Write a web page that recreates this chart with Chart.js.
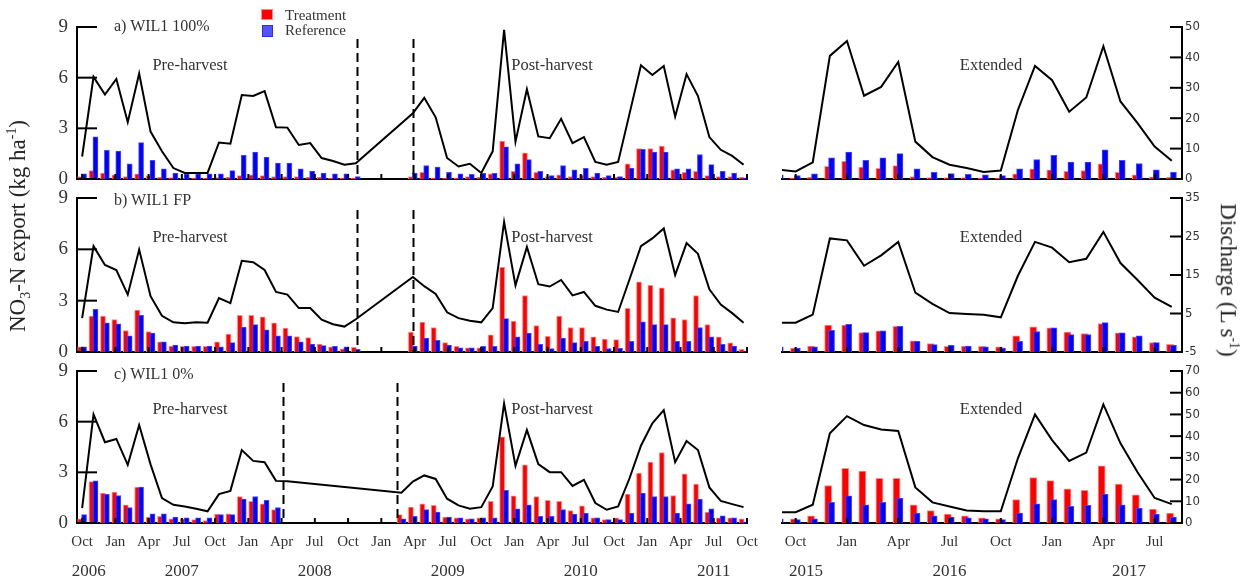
<!DOCTYPE html>
<html>
<head>
<meta charset="utf-8">
<script src="https://cdn.jsdelivr.net/npm/chart.js@4.4.1/dist/chart.umd.min.js"></script>
<style>
  html, body { margin: 0; padding: 0; background: #fff; }
  #wrap { position: relative; width: 1249px; height: 586px; overflow: hidden;
          font-family: 'Liberation Serif', 'Times New Roman', serif; color: #333; }
  #wrap canvas { position: absolute; left: 0; top: 0; }
  .txt { position: absolute; white-space: nowrap; line-height: 1; }
  .phase { font-size: 16.5px; transform: translateX(-50%); }
  .panel { font-size: 16px; left: 114px; }
  .key { position: absolute; box-sizing: border-box; }
  .title { font-size: 23px; color: #222; }
  .title sub, .title sup { font-size: 0.6em; }
</style>
</head>
<body>
<div id="wrap">
  <canvas id="aL" width="1249" height="586"></canvas>
  <canvas id="aR" width="1249" height="586"></canvas>
  <canvas id="bL" width="1249" height="586"></canvas>
  <canvas id="bR" width="1249" height="586"></canvas>
  <canvas id="cL" width="1249" height="586"></canvas>
  <canvas id="cR" width="1249" height="586"></canvas>

  <div class="key" style="left:261px;top:9px;width:12px;height:11px;background:#ff0000;border:1px solid #ff8a8a"></div>
  <div class="txt" style="left:285px;top:8px;font-size:15px">Treatment</div>
  <div class="key" style="left:262px;top:25px;width:11px;height:12px;background:#5353ff;border:1px solid #2a2aff"></div>
  <div class="txt" style="left:285px;top:23px;font-size:15px">Reference</div>

  <div class="txt panel" style="top:18px">a) WIL1 100%</div>
  <div class="txt panel" style="top:192px">b) WIL1 FP</div>
  <div class="txt panel" style="top:366px">c) WIL1 0%</div>

  <div class="txt phase" style="left:190px;top:57px">Pre-harvest</div>
  <div class="txt phase" style="left:552px;top:57px">Post-harvest</div>
  <div class="txt phase" style="left:991px;top:57px">Extended</div>
  <div class="txt phase" style="left:190px;top:229px">Pre-harvest</div>
  <div class="txt phase" style="left:552px;top:229px">Post-harvest</div>
  <div class="txt phase" style="left:991px;top:229px">Extended</div>
  <div class="txt phase" style="left:190px;top:401px">Pre-harvest</div>
  <div class="txt phase" style="left:552px;top:401px">Post-harvest</div>
  <div class="txt phase" style="left:991px;top:401px">Extended</div>

  <div class="txt title" style="left:19px;top:226px;transform:translate(-50%,-50%) rotate(-90deg)">NO<sub>3</sub>-N export (kg ha<sup>-1</sup>)</div>
  <div class="txt title" style="left:1229px;top:280px;transform:translate(-50%,-50%) rotate(90deg)">Discharge (L s<sup>-1</sup>)</div>
</div>
<script>
// x tick labels
const quartersL = ['Oct','Jan','Apr','Jul','Oct','Jan','Apr','Jul','Oct','Jan','Apr','Jul',
                   'Oct','Jan','Apr','Jul','Oct','Jan','Apr','Jul','Oct'];
const yearsL = ['2006','2007','2008','2009','2010','2011'];
const quartersR = ['Oct','Jan','Apr','Jul','Oct','Jan','Apr','Jul'];
const yearsR = ['2015','2016','2017'];

// y ticks
const exportTicks = [0, 3, 6, 9];
const qTicksA = [0, 10, 20, 30, 40, 50];
const qTicksB = [-5, 5, 15, 25, 35];
const qTicksC = [0, 10, 20, 30, 40, 50, 60, 70];

// 2006-2011 block, one value per period from Oct 2006 (59 periods), null = no data
// NO3-N export (kg/ha): Treatment / Reference; discharge (L/s)
const aTrt = [0.15,0.5,0.35,0.25,0.15,0.3,0.2,0.1,0.08,0.05,0.05,0.05,0.08,0.1,0.2,0.25,0.2,0.15,0.15,0.15,0.12,0.1,0.05,0.05,0.05,
  null,null,null,null,
  0.15,0.4,0.05,0.05,0.05,0.15,0.1,0.3,2.25,0.45,1.55,0.4,0.15,0.25,0.15,0.25,0.15,0.1,0.1,0.9,1.8,1.8,1.95,0.55,0.4,0.45,0.2,0.15,0.15,0.1];
const aRef = [0.3,2.5,1.7,1.65,0.9,2.15,1.1,0.6,0.35,0.3,0.3,0.3,0.3,0.5,1.4,1.6,1.3,0.95,0.95,0.6,0.47,0.35,0.3,0.3,0.15,
  null,null,null,null,
  0.35,0.8,0.7,0.4,0.3,0.27,0.33,0.33,1.9,0.9,1.15,0.45,0.2,0.8,0.55,0.63,0.35,0.2,0.15,0.65,1.75,1.6,1.6,0.6,0.6,1.45,0.85,0.45,0.35,0.05];
const aQ = [7.4,33.6,27.8,32.9,18.7,34.7,15.6,9.1,3.6,2.0,2.0,2.0,12.0,11.6,27.6,27.3,28.9,17.0,16.9,11.2,11.8,6.9,5.9,4.7,5.2,
  null,null,null,null,
  21.6,26.7,20.3,6.9,4.1,5.0,2.0,9.1,49.1,12.3,29.5,14.0,13.4,19.8,11.8,13.8,5.6,4.7,5.6,21.5,37.4,34.2,37.2,20.5,34.5,27.3,13.8,9.6,7.6,4.7];

const bTrt = [0.3,2.1,2.1,1.9,1.25,2.45,1.2,0.6,0.35,0.33,0.33,0.33,0.6,1.05,2.15,2.15,2.05,1.7,1.4,0.9,0.85,0.47,0.3,0.18,0.28,
  null,null,null,null,
  1.17,1.75,1.43,0.55,0.33,0.25,0.25,1.0,4.95,1.8,3.3,1.55,0.92,2.1,1.43,1.43,0.88,0.75,0.72,2.55,4.1,3.9,3.75,2.0,1.9,3.3,1.6,0.88,0.53,0.15];
const bRef = [0.3,2.5,1.7,1.65,0.95,2.15,1.1,0.6,0.4,0.35,0.35,0.35,0.3,0.55,1.45,1.6,1.3,0.95,0.95,0.6,0.47,0.37,0.33,0.3,0.15,
  null,null,null,null,
  0.35,0.82,0.68,0.4,0.25,0.25,0.33,0.33,1.95,0.88,1.1,0.45,0.2,0.82,0.55,0.63,0.33,0.2,0.22,0.63,1.76,1.6,1.6,0.63,0.63,1.43,0.88,0.45,0.35,0.05];
const bQ = [3.8,22.5,17.6,16.3,9.9,21.6,9.5,4.4,2.7,2.5,2.7,2.6,9.0,7.7,18.7,18.3,16.3,10.6,9.9,6.4,6.4,3.4,2.2,1.6,3.5,
  null,null,null,null,
  14.5,12.1,10.1,5.3,3.8,3.1,2.7,6.4,28.8,12.3,22.3,12.6,12.0,13.7,9.7,10.6,7.0,6.0,5.4,13.9,22.5,24.5,27.1,15.0,23.3,20.5,11.3,7.3,5.1,2.6];

const cTrt = [0.25,2.45,1.77,1.83,1.08,2.12,0.35,0.4,0.25,0.25,0.2,0.15,0.53,0.55,1.57,1.28,1.14,0.79,
  null,null,null,null,null,null,null,null,null,null,
  0.5,0.94,1.14,1.04,0.35,0.3,0.24,0.3,1.28,5.1,1.61,3.44,1.57,1.34,1.28,0.73,1.02,0.3,0.2,0.3,1.71,2.95,3.6,4.17,1.63,2.91,2.3,0.65,0.3,0.3,0.24];
const cRef = [0.5,2.5,1.7,1.63,0.92,2.12,0.55,0.55,0.35,0.3,0.3,0.3,0.5,0.5,1.41,1.57,1.34,0.92,
  null,null,null,null,null,null,null,null,null,null,
  0.25,0.4,0.79,0.65,0.35,0.3,0.24,0.3,0.3,1.93,0.84,1.08,0.4,0.4,0.79,0.53,0.59,0.3,0.2,0.2,0.59,1.77,1.57,1.57,0.59,1.14,1.41,0.84,0.43,0.3,0.05];
const cQ = [6.9,50.0,37.2,38.7,26.8,45.1,27.0,11.5,8.4,7.6,6.6,5.4,13.3,14.8,33.6,28.6,28.0,19.4,19.2,
  null,null,null,null,null,null,null,null,null,
  13.9,19.1,21.9,20.3,11.2,8.1,6.6,7.3,16.8,55.0,26.3,42.8,27.1,23.4,23.4,17.1,19.9,9.2,6.1,7.6,20.6,35.6,45.9,52.0,28.0,37.8,33.6,16.4,10.2,8.7,7.3];

// 2015-2017 block, monthly from Sep 2015 to Aug 2017 (24 months)
const aTrtR = [0.05,0.05,0.1,0.75,1.05,0.7,0.63,0.8,0.15,0.08,0.08,0.08,0.05,0.05,0.3,0.6,0.55,0.45,0.5,0.9,0.4,0.25,0.13,0.1];
const aRefR = [0.25,0.2,0.3,1.25,1.6,1.1,1.25,1.5,0.6,0.4,0.32,0.28,0.25,0.2,0.6,1.15,1.4,1.0,1.0,1.73,1.1,0.92,0.55,0.4];
const aQR = [3.1,2.5,5.5,40.5,45.4,27.4,30.3,38.5,12.3,7.2,4.7,3.6,2.3,2.8,22.7,37.2,32.5,22.1,26.8,43.7,25.5,18.4,10.7,6.0];

const bTrtR = [0.3,0.23,0.35,1.57,1.57,1.13,1.23,1.5,0.65,0.49,0.33,0.35,0.33,0.3,0.94,1.47,1.41,1.17,1.08,1.66,1.12,0.88,0.55,0.45];
const bRefR = [0.3,0.23,0.3,1.27,1.62,1.13,1.23,1.5,0.63,0.43,0.39,0.35,0.3,0.23,0.63,1.19,1.41,1.02,1.02,1.72,1.12,0.94,0.55,0.39];
const bQR = [2.6,2.6,4.7,24.5,24.0,17.4,20.1,23.6,10.4,7.5,5.1,4.9,4.7,4.0,14.8,23.6,22.1,18.3,19.2,26.2,18.1,13.7,9.1,6.7];

const cTrtR = [0.2,0.24,0.43,2.22,3.24,3.08,2.65,2.65,1.08,0.73,0.53,0.43,0.3,0.24,1.38,2.69,2.51,2.02,1.93,3.38,2.3,1.67,0.83,0.59];
const cRefR = [0.24,0.2,0.25,1.22,1.61,1.08,1.22,1.47,0.59,0.43,0.35,0.3,0.25,0.2,0.59,1.14,1.38,0.98,1.04,1.71,1.08,0.88,0.53,0.35];
const cQR = [5.0,5.0,8.4,41.3,49.2,45.1,43.1,42.4,16.4,9.5,7.6,5.8,5.4,5.4,29.8,50.0,38.2,28.6,32.4,54.6,36.7,23.4,11.5,8.7];

// harvest period boundaries (in period index)
const cutsAB = [24.1, 29.0];
const cutsC = [17.6, 27.6];

const W = 1249, H = 586;
const LEFT_AREA = [77, 747], RIGHT_AREA = [782, 1182];
const ROWS = { a: [27, 179], b: [198, 352], c: [371, 523] };
const QSTEP_L = 58.3 / 20;

Chart.defaults.font.family = "'Liberation Serif', 'Times New Roman', serif";
Chart.defaults.color = '#333';

const pts = (arr, shift) => arr.map((v, i) => ({ x: i + shift, y: v }));

// dashed boundaries, inward tick marks, year row
const decor = {
  id: 'decor',
  afterDatasetsDraw(chart, args, o) {
    const { ctx, chartArea: a } = chart;
    ctx.save();
    ctx.strokeStyle = '#000';
    ctx.lineWidth = 2;
    ctx.setLineDash([9, 5]);
    (o.cuts || []).forEach(v => {
      const x = Math.round(chart.scales.x.getPixelForValue(v)) + 0.5;
      ctx.beginPath();
      ctx.moveTo(x, a.top + 12);
      ctx.lineTo(x, a.bottom);
      ctx.stroke();
    });
    ctx.restore();
  },
  afterDraw(chart, args, o) {
    const { ctx } = chart;
    ctx.save();
    ctx.strokeStyle = '#000';
    ctx.lineWidth = 2;
    (o.marks || []).forEach(m => {
      const s = chart.scales[m.id];
      s.ticks.forEach(t => {
        const p = s.getPixelForValue(t.value);
        ctx.beginPath();
        if (s.isHorizontal()) { ctx.moveTo(p, s.top); ctx.lineTo(p, s.top - m.len); }
        else if (s.position === 'left') { ctx.moveTo(s.right, p); ctx.lineTo(s.right + m.len, p); }
        else { ctx.moveTo(s.left, p); ctx.lineTo(s.left - m.len, p); }
        ctx.stroke();
      });
    });
    if (o.years) {
      const s = chart.scales.x;
      ctx.fillStyle = '#333';
      ctx.font = "17px 'Liberation Serif', 'Times New Roman', serif";
      ctx.textAlign = 'center';
      ctx.textBaseline = 'middle';
      o.years.forEach((y, k) => ctx.fillText(y, s.getPixelForValue(o.yearFirst + o.yearAt[k] * o.yearStep), 572));
    }
    ctx.restore();
  }
};

function sets(trt, ref, q, wide) {
  const shift = wide ? 0.1 : 0.17;
  return [
    { type: 'line', data: pts(q, 0), yAxisID: 'y1', borderColor: '#000', borderWidth: 2,
      pointRadius: 0, spanGaps: true, tension: 0, order: 0 },
    { type: 'bar', data: pts(ref, shift), yAxisID: 'y', backgroundColor: '#0000ff', borderColor: '#4646ff',
      borderWidth: 1, barThickness: wide ? 6 : 5, grouped: false, clip: 0, order: 1 },
    { type: 'bar', data: pts(trt, -shift), yAxisID: 'y', backgroundColor: '#ff0000', borderColor: '#ff8a8a',
      borderWidth: 1, barThickness: wide ? 7 : 5, grouped: false, clip: 0, order: 2 }
  ];
}

function build(id, left, row, trt, ref, q, qRange, qTicks, cuts, withLabels) {
  const [top, bottom] = ROWS[row];
  const xh = withLabels ? 40 : 0;
  const months = left ? quartersL : quartersR;
  const step = left ? QSTEP_L : 3;
  const first = left ? 0 : 1;
  const noGrid = { display: false, drawTicks: false };
  const axisLine = { display: true, color: '#000', width: 2 };
  new Chart(document.getElementById(id), {
    type: 'bar',
    data: { datasets: sets(trt, ref, q, !left) },
    options: {
      responsive: false, animation: false, devicePixelRatio: 1, events: [],
      layout: { autoPadding: false, padding: {
        left: left ? 0 : RIGHT_AREA[0], right: left ? W - LEFT_AREA[1] : 0,
        top: top, bottom: H - bottom - xh } },
      plugins: {
        legend: { display: false }, tooltip: { enabled: false },
        decor: {
          cuts: cuts,
          marks: left ? [{ id: 'x', len: 5 }, { id: 'y', len: 20 }] : [{ id: 'x', len: 5 }, { id: 'y1', len: 12 }],
          years: withLabels ? (left ? yearsL : yearsR) : null,
          yearAt: left ? [0.2, 3, 7, 11, 15, 19] : [0.2, 3, 6.5],
          yearFirst: first, yearStep: step
        }
      },
      scales: {
        x: {
          type: 'linear', z: 1, offset: false,
          min: left ? -0.45 : 0.2, max: left ? 58.3 : 23.6,
          afterBuildTicks: s => { s.ticks = months.map((_, k) => ({ value: first + k * step })); },
          afterFit: s => { s.height = xh; s.paddingLeft = 0; s.paddingRight = 0; },
          grid: noGrid, border: axisLine,
          ticks: { display: withLabels, autoSkip: false, maxRotation: 0, padding: 10,
                   font: { size: 15 }, color: '#333', callback: (v, k) => months[k] }
        },
        y: {
          type: 'linear', position: 'left', display: left, min: 0, max: 9,
          afterBuildTicks: s => { s.ticks = exportTicks.map(v => ({ value: v })); },
          afterFit: s => { s.width = left ? LEFT_AREA[0] : 0; s.paddingTop = 0; s.paddingBottom = 0; },
          grid: noGrid, border: axisLine,
          ticks: { padding: 9, font: { size: 19 }, color: '#333' }
        },
        y1: {
          type: 'linear', position: 'right', display: !left, min: qRange[0], max: qRange[1],
          afterBuildTicks: s => { s.ticks = qTicks.map(v => ({ value: v })); },
          afterFit: s => { s.width = left ? 0 : W - RIGHT_AREA[1]; s.paddingTop = 0; s.paddingBottom = 0; },
          grid: noGrid, border: axisLine,
          ticks: { padding: 3, color: '#333',
                   font: { size: 13, family: "'Liberation Sans Narrow', 'DejaVu Sans Condensed', sans-serif" } }
        }
      }
    },
    plugins: [decor]
  });
}

build('aL', true, 'a', aTrt, aRef, aQ, [0, 50], qTicksA, cutsAB, false);
build('aR', false, 'a', aTrtR, aRefR, aQR, [0, 50], qTicksA, [], false);
build('bL', true, 'b', bTrt, bRef, bQ, [-5, 35], qTicksB, cutsAB, false);
build('bR', false, 'b', bTrtR, bRefR, bQR, [-5, 35], qTicksB, [], false);
build('cL', true, 'c', cTrt, cRef, cQ, [0, 70], qTicksC, cutsC, true);
build('cR', false, 'c', cTrtR, cRefR, cQR, [0, 70], qTicksC, [], true);
</script>
</body>
</html>
